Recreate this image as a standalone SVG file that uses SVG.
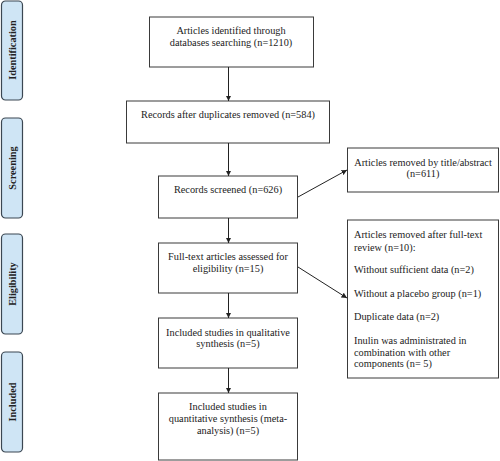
<svg xmlns="http://www.w3.org/2000/svg" width="500" height="461" viewBox="0 0 500 461">
<style>
.box{fill:#fff;stroke:#3a3a3a;stroke-width:1}
.side{fill:#cfe5f5;stroke:#3b4752;stroke-width:1.2}
.t{font-family:"Liberation Serif",serif;font-size:10.3px;fill:#222}
.c{text-anchor:middle}
.s{font-family:"Liberation Serif",serif;font-size:10.3px;font-weight:bold;fill:#222;text-anchor:middle}
.ln{stroke:#222;stroke-width:1;fill:none}
</style>
<defs>
<marker id="ah" viewBox="0 0 10 10" refX="10" refY="5" markerWidth="5.5" markerHeight="5.5" orient="auto-start-reverse" markerUnits="userSpaceOnUse">
<path d="M0,0 L10,5 L0,10 z" fill="#222"/>
</marker>
</defs>
<rect width="500" height="461" fill="#fff"/>
<g id="phase-identification"><rect class="side" x="1.5" y="1" width="21" height="99" rx="4"/><text class="s" transform="translate(15.5,50) rotate(-90)">Identification</text></g>
<g id="phase-screening"><rect class="side" x="1.5" y="118" width="21" height="100" rx="4"/><text class="s" transform="translate(15.5,168) rotate(-90)">Screening</text></g>
<g id="phase-eligibility"><rect class="side" x="1.5" y="234" width="21" height="100" rx="4"/><text class="s" transform="translate(15.5,284) rotate(-90)">Eligibility</text></g>
<g id="phase-included"><rect class="side" x="1.5" y="352" width="21" height="100" rx="4"/><text class="s" transform="translate(15.5,402) rotate(-90)">Included</text></g>

<g id="n1"><rect class="box" x="149.5" y="17" width="164" height="50"/><text class="t c" x="231" y="34">Articles identified through</text><text class="t c" x="231" y="46">databases searching (n=1210)</text></g>
<g id="n2"><rect class="box" x="126.5" y="101" width="203" height="42"/><text class="t c" x="228" y="118">Records after duplicates removed (n=584)</text></g>
<g id="n3"><rect class="box" x="158.5" y="176" width="139" height="42"/><text class="t c" x="228" y="193">Records screened (n=626)</text></g>
<g id="n4"><rect class="box" x="158.5" y="243" width="139" height="50"/><text class="t c" x="228" y="260">Full-text articles assessed for</text><text class="t c" x="228" y="272">eligibility (n=15)</text></g>
<g id="n5"><rect class="box" x="158.5" y="318" width="139" height="50"/><text class="t c" x="228" y="336">Included studies in qualitative</text><text class="t c" x="228" y="347">synthesis (n=5)</text></g>
<g id="n6"><rect class="box" x="158.5" y="393" width="139" height="67"/><text class="t c" x="228" y="410">Included studies in</text><text class="t c" x="228" y="422">quantitative synthesis (meta-</text><text class="t c" x="228" y="434">analysis) (n=5)</text></g>
<g id="r1"><rect class="box" x="347.5" y="148" width="151" height="44"/><text class="t c" x="423" y="166">Articles removed by title/abstract</text><text class="t c" x="423" y="177">(n=611)</text></g>
<g id="r2"><rect class="box" x="347.5" y="220" width="151" height="158"/>
<text class="t" x="354" y="238">Articles removed after full-text</text>
<text class="t" x="354" y="251">review (n=10):</text>
<text class="t" x="354" y="273">Without sufficient data (n=2)</text>
<text class="t" x="354" y="297">Without a placebo group (n=1)</text>
<text class="t" x="354" y="320">Duplicate data (n=2)</text>
<text class="t" x="354" y="344">Inulin was administrated in</text>
<text class="t" x="354" y="356">combination with other</text>
<text class="t" x="354" y="367">components (n= 5)</text>
</g>
<g id="connectors">
<line class="ln" x1="228.5" y1="67" x2="228.5" y2="101" marker-end="url(#ah)"/>
<line class="ln" x1="228.5" y1="143" x2="228.5" y2="176" marker-end="url(#ah)"/>
<line class="ln" x1="228.5" y1="218" x2="228.5" y2="243" marker-end="url(#ah)"/>
<line class="ln" x1="228.5" y1="293" x2="228.5" y2="318" marker-end="url(#ah)"/>
<line class="ln" x1="228.5" y1="368" x2="228.5" y2="393" marker-end="url(#ah)"/>
<line class="ln" x1="298" y1="197" x2="347" y2="170" marker-end="url(#ah)"/>
<line class="ln" x1="298" y1="267" x2="347" y2="298" marker-end="url(#ah)"/>
</g>
</svg>
